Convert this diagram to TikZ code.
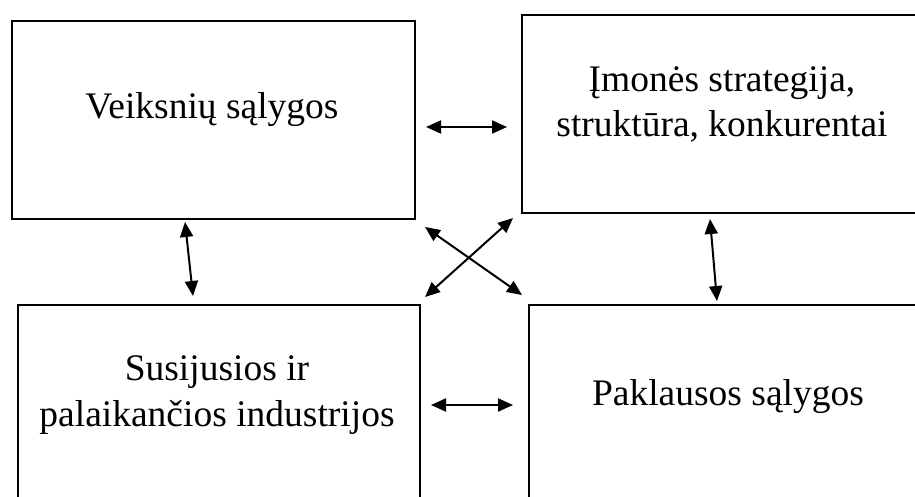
\documentclass[tikz,border=0pt]{standalone}
\usepackage{fontspec}
\setmainfont{Liberation Serif}
\usetikzlibrary{arrows.meta}
\begin{document}
\begin{tikzpicture}[x=1pt,y=-1pt,
  box/.style={draw=black,line width=2pt,rectangle,inner sep=0pt,anchor=north west},
  lbl/.style={anchor=base,inner sep=0pt,font=\fontsize{37.5}{46}\selectfont},
  link/.style={line width=2pt,{Triangle[length=15pt,width=13pt]}-{Triangle[length=15pt,width=13pt]}}]
\useasboundingbox (0,0) rectangle (915,497);
\clip (0,0) rectangle (915,497);
\fill[white] (0,0) rectangle (915,497);

% the four boxes (the right and lower ones run past the edge of the page)
\node[box,minimum width=403pt,minimum height=198pt] (tl) at (11,20) {};
\node[box,minimum width=460pt,minimum height=198pt] (tr) at (521,14) {};
\node[box,minimum width=402pt,minimum height=240pt] (bl) at (17,304) {};
\node[box,minimum width=460pt,minimum height=240pt] (br) at (528,304) {};

% labels
\node[lbl] (tltext) at (212,119) {Veiksnių sąlygos};
\node[lbl] (trtexta) at (722,92) {Įmonės strategija,};
\node[lbl] (trtextb) at (722,137) {struktūra, konkurentai};
\node[lbl] (bltexta) at (217,380) {Susijusios ir};
\node[lbl] (bltextb) at (217,426) {palaikančios industrijos};
\node[lbl] (brtext) at (728,405) {Paklausos sąlygos};

% arrow end points beside the boxes
\coordinate (tlE) at (426,127);
\coordinate (trW) at (507,127);
\coordinate (blE) at (431,405);
\coordinate (brW) at (513,405);
\coordinate (tlS) at (185,222);
\coordinate (blN) at (193,296);
\coordinate (trS) at (710,219);
\coordinate (brN) at (717,301);
\coordinate (tlSE) at (425,227);
\coordinate (brNW) at (522,295);
\coordinate (blNE) at (425,297);
\coordinate (trSW) at (513,218);

% two-way links
\draw[link] (tlE) -- (trW);
\draw[link] (blE) -- (brW);
\draw[link] (tlS) -- (blN);
\draw[link] (trS) -- (brN);
\draw[link] (tlSE) -- (brNW);
\draw[link] (blNE) -- (trSW);
\end{tikzpicture}
\end{document}
